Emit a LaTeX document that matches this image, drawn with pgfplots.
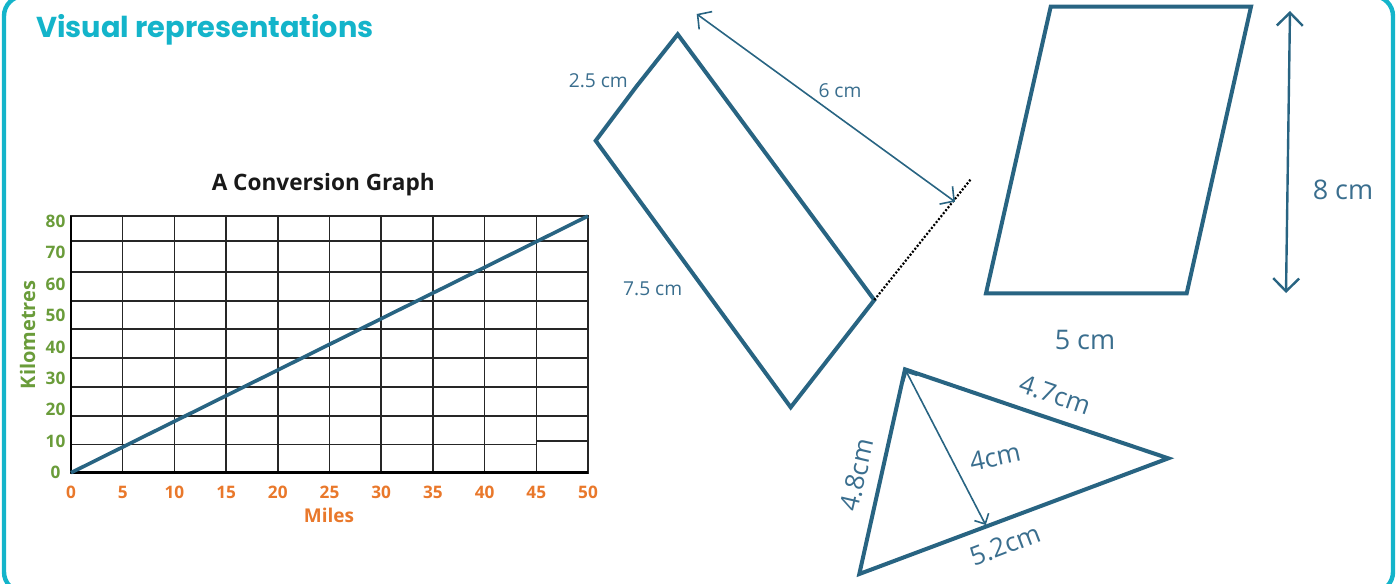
\documentclass[border=0pt]{standalone}
\usepackage{fontspec}
\setmainfont{Open Sans}
\newfontfamily\titlefont{Poppins}
\usepackage{pgfplots}
\pgfplotsset{compat=1.18}
\usetikzlibrary{arrows.meta}

\definecolor{framec}{HTML}{14B4CA}
\definecolor{shapec}{HTML}{286482}
\definecolor{shapetext}{HTML}{3A6E8E}
\definecolor{kmgreen}{HTML}{6A9C3A}
\definecolor{mileorange}{HTML}{E9782B}
\definecolor{gridc}{HTML}{262626}

\newcommand{\fs}[1]{\fontsize{#1}{1.2\dimexpr#1pt\relax}\selectfont}

\begin{document}
\begin{tikzpicture}
% whole panel, in pixel units of the reference (y downwards)
\begin{axis}[name=bg, scale only axis, width=699pt, height=291.5pt,
    xmin=0, xmax=1398, ymin=0, ymax=583, y dir=reverse, hide axis]
  % rounded frame
  \addplot[framec, line width=2.2pt, rounded corners=10pt] coordinates
    {(700,-4) (1393,-4) (1393,592) (4,592) (4,-4) (700,-4)};
  % tilted rectangle
  \addplot[shapec, line width=2pt] coordinates
    {(636,87) (677.7,34.3) (874.3,300) (790.7,407.3) (595.7,140.7) (636,87)};
  \addplot[black, line width=1.1pt, dash pattern=on 1pt off 0.9pt] coordinates
    {(874.3,300) (970.7,179.3)};
  \addplot[shapec, line width=0.8pt, {Straight Barb[length=5pt,width=11pt]}-{Straight Barb[length=5pt,width=11pt]}] coordinates
    {(696.7,14) (955,201.7)};
  % parallelogram
  \addplot[shapec, line width=2pt] coordinates
    {(1150,6.7) (1251,6.7) (1186.7,293.3) (986,293.3) (1050.7,6.7) (1150,6.7)};
  \addplot[shapec, line width=1.2pt, {Straight Barb[length=6.5pt,width=13pt]}-{Straight Barb[length=6.5pt,width=13pt]}] coordinates
    {(1290,11) (1286,293)};
  % triangle
  \addplot[shapec, line width=2pt] coordinates
    {(1036,413.8) (1168.3,458.3) (859.3,574) (905,369.3) (1036,413.8)};
  \addplot[shapec, line width=0.8pt, {Straight Barb[length=4pt,width=8pt]}-{Straight Barb[length=4pt,width=8pt]}] coordinates
    {(906,371) (985.7,525)};
  % texts
  \node[anchor=base west, inner sep=0pt, text=framec, font=\titlefont\bfseries\fs{14.4}] at (axis cs:36,37) {Visual representations};
  \node[text=shapetext, font=\fs{9.6}] at (axis cs:598.3,81) {2.5 cm};
  \node[text=shapetext, font=\fs{9.6}] at (axis cs:840,90.7) {6 cm};
  \node[text=shapetext, font=\fs{9.6}] at (axis cs:652.7,288.3) {7.5 cm};
  \node[text=shapetext, font=\fs{13.5}] at (axis cs:1343,190) {8 cm};
  \node[text=shapetext, font=\fs{13.5}] at (axis cs:1085,340) {5 cm};
  \node[inner sep=0.5pt, text=shapetext, font=\fs{13}, rotate=-19] at (axis cs:1055,395) {4.7cm};
  \node[inner sep=0.5pt, text=shapetext, font=\fs{13}, rotate=12] at (axis cs:995,457) {4cm};
  \node[inner sep=0.5pt, text=shapetext, font=\fs{13}, rotate=21] at (axis cs:1005,545) {5.2cm};
  \node[inner sep=0.5pt, text=shapetext, font=\fs{13}, rotate=77] at (axis cs:857,475) {4.8cm};
\end{axis}

% the conversion graph
\begin{axis}[name=graph, at={(35.5pt,55.15pt)}, anchor=south west,
    scale only axis, width=258.5pt, height=128.35pt,
    xmin=0, xmax=50, ymin=0, ymax=81.6,
    xtick={0,5,...,50}, ytick={0,10,...,80},
    major tick length=0pt,
    xmajorgrids, grid style={gridc, line width=0.8pt},
    axis line style={gridc, line width=0.8pt},
    /pgf/number format/assume math mode=true,
    xticklabel style={font=\bfseries\fs{8.6}, text=mileorange, anchor=center, yshift=-9.8pt},
    yticklabel style={font=\bfseries\fs{8.6}, text=kmgreen, anchor=center, xshift=-7.75pt},
    clip=false]
  % horizontal grid lines
  \addplot[gridc, line width=0.8pt] coordinates {(0,9.03) (45,9.03)};
  \addplot[gridc, line width=0.8pt] coordinates {(45,10.1) (50,10.1)};
  \addplot[gridc, line width=0.8pt] coordinates {(0,18.1) (50,18.1)};
  \addplot[gridc, line width=0.8pt] coordinates {(0,27.25) (50,27.25)};
  \addplot[gridc, line width=0.8pt] coordinates {(0,36.4) (50,36.4)};
  \addplot[gridc, line width=0.8pt] coordinates {(0,45.6) (50,45.6)};
  \addplot[gridc, line width=0.8pt] coordinates {(0,54.6) (50,54.6)};
  \addplot[gridc, line width=0.8pt] coordinates {(0,63.8) (50,63.8)};
  \addplot[gridc, line width=0.8pt] coordinates {(0,73.7) (50,73.7)};
  % heavier left and bottom axis
  \addplot[black, line width=1.2pt] coordinates {(0,0) (0,81.6)};
  \addplot[black, line width=1.6pt] coordinates {(0,0) (50,0)};
  % miles to km
  \addplot[shapec, line width=1.8pt] coordinates {(0,0) (50,81.6)};
  \node[font=\bfseries\fs{11.3}, text=black!90] at (axis cs:24.4,81.6) [yshift=15.5pt] {A Conversion Graph};
  \node[font=\bfseries\fs{9.5}, text=mileorange] at (axis cs:24.95,0) [yshift=-21.2pt] {Miles};
  \node[font=\bfseries\fs{10}, text=kmgreen, rotate=90] at (axis cs:-4.19,43.8) {Kilometres};
\end{axis}
\pgfresetboundingbox
\path[use as bounding box] (bg.south west) rectangle (bg.north east);
\end{tikzpicture}
\end{document}
